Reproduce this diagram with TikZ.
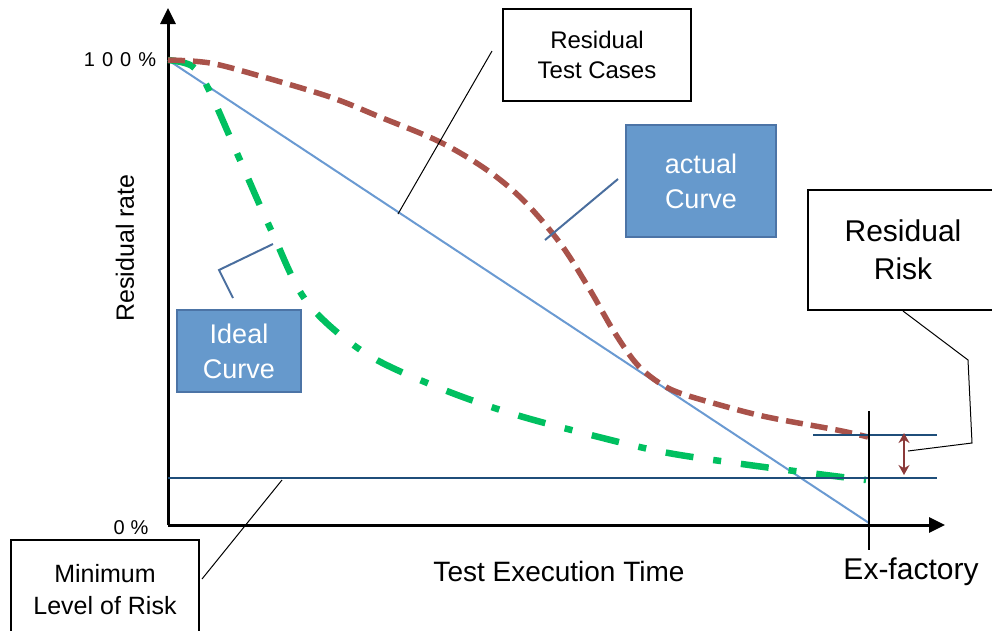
\documentclass[tikz,border=0pt]{standalone}
\usepackage{fontspec}
\setmainfont{Liberation Sans}
\usetikzlibrary{arrows.meta}
\definecolor{redc}{HTML}{A9524A}
\definecolor{greenc}{HTML}{00C060}
\definecolor{bluel}{HTML}{6A9AD2}
\definecolor{navy}{HTML}{1F4E7A}
\definecolor{arrowc}{HTML}{8B3A3A}
\definecolor{boxfill}{HTML}{6699CC}
\definecolor{boxdraw}{HTML}{4C74A6}
\definecolor{leadblue}{HTML}{4A6E9E}
\tikzset{
  whitebox/.style={draw=black, line width=1.3pt, fill=white, inner sep=0pt, align=center},
  bluebox/.style={draw=boxdraw, line width=2pt, fill=boxfill, text=white, inner sep=0pt, align=center},
  leader/.style={draw=black, line width=1pt},
  bleader/.style={draw=leadblue, line width=2pt},
  axis/.style={draw=black, line width=3pt},
  navyline/.style={draw=navy, line width=2.5pt},
}
\begin{document}
\begin{tikzpicture}[x=1pt,y=-1pt]
\useasboundingbox (0,0) rectangle (992,630);
% axes
\coordinate (O) at (168,525);
\coordinate (Ytip) at (168,8);
\coordinate (Xtip) at (945,525);
\draw[axis, -{Triangle[length=16pt,width=15pt]}] (O) -- (Ytip);
\draw[axis, -{Triangle[length=16pt,width=15pt]}] (O) -- (Xtip);
% straight blue line
\coordinate (Top) at (168,60);
\coordinate (End) at (869,523);
\draw[bluel, line width=2pt] (Top) -- (End);
% ideal curve (green dash-dot)
\draw[greenc, line width=6.5pt, dash pattern=on 28pt off 20pt on 8pt off 20pt]
  plot[smooth, tension=0.55] coordinates {(168,60) (192,66) (208,88) (240,160) (272,232) (307,302) (365,353) (437,387) (510,413) (587,434) (663,452) (742,464) (818,474) (866,480)};
% actual curve (red dashed)
\draw[redc, line width=5.5pt, dash pattern=on 17pt off 8pt]
  plot[smooth, tension=0.55] coordinates {(168,60) (210,63) (260,76) (330,97) (380,117) (440,142) (487,170) (523,200) (560,243) (590,290) (613,330) (635,362) (655,380) (677,392) (720,405) (767,417) (837,430) (868,437)};
% horizontal levels
\coordinate (MinL) at (168,478);
\coordinate (MinR) at (937,478);
\coordinate (RiskL) at (813,435);
\coordinate (RiskR) at (937,435);
\draw[navyline] (MinL) -- (MinR);
\draw[navyline] (RiskL) -- (RiskR);
% ex-factory vertical
\coordinate (ExT) at (869,411);
\coordinate (ExB) at (869,550);
\draw[black, line width=2.5pt] (ExT) -- (ExB);
% double arrow
\coordinate (DA1) at (904,433);
\coordinate (DA2) at (904,475);
\draw[arrowc, line width=2.5pt, {Stealth[length=10pt,width=11pt]}-{Stealth[length=10pt,width=11pt]}] (DA1) -- (DA2);
% labels
\node[font=\fontsize{20}{24}\selectfont] (p100) at (120,60) {1\kern7pt0\kern7pt0\kern7pt\%};
\node[font=\fontsize{20}{24}\selectfont] (p0) at (131,528) {0\kern6pt\%};
\node[rotate=90, font=\fontsize{25}{30}\selectfont] (ylab) at (125,248) {Residual rate};
\node[font=\fontsize{28}{32}\selectfont] (xlab) at (559,571) {Test Execution Time};
\node[font=\fontsize{30}{34}\selectfont] (exf) at (911,572) {Ex-factory};
% boxes
\node[whitebox, minimum width=188pt, minimum height=92pt, font=\fontsize{24}{30}\selectfont] (rtc) at (597,55)
  {Residual\\Test Cases};
\node[bluebox, minimum width=150pt, minimum height=112pt, font=\fontsize{27}{35}\selectfont] (act) at (701,181)
  {actual\\Curve};
\node[bluebox, minimum width=124pt, minimum height=82pt, font=\fontsize{27}{35}\selectfont] (ide) at (239,351)
  {Ideal\\Curve};
\node[whitebox, minimum width=190pt, minimum height=120pt, font=\fontsize{30}{38}\selectfont] (rr) at (903,250)
  {Residual\\Risk};
\node[whitebox, minimum width=188pt, minimum height=100pt, font=\fontsize{25}{32}\selectfont] (mlr) at (105,590)
  {Minimum\\Level of Risk};
% leaders
\coordinate (l1a) at (492,51);
\coordinate (l1b) at (398,214);
\draw[leader] (l1a) -- (l1b);
\coordinate (l2a) at (618,179);
\coordinate (l2b) at (545,240);
\draw[bleader] (l2a) -- (l2b);
\coordinate (l3a) at (273,244);
\coordinate (l3b) at (219,270);
\coordinate (l3c) at (233,298);
\draw[bleader] (l3a) -- (l3b) -- (l3c);
\coordinate (l4a) at (202,579);
\coordinate (l4b) at (282,480);
\draw[leader] (l4a) -- (l4b);
\coordinate (l5a) at (903,311);
\coordinate (l5b) at (968,360);
\coordinate (l5c) at (972,443);
\coordinate (l5d) at (908,451);
\draw[leader] (l5a) -- (l5b) -- (l5c) -- (l5d);
\end{tikzpicture}
\end{document}
